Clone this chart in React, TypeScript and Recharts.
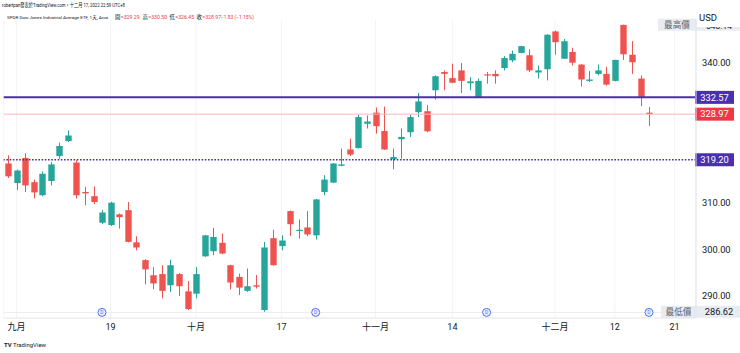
import { ComposedChart, Bar, XAxis, YAxis, ReferenceLine, ReferenceDot, CartesianGrid } from 'recharts';

// daily candles, 2022-08-31 .. 2022-12-16 (DIA)
const openP = [
  318.4, 314.2, 319.6, 314.4, 311.6, 314.65, 320.0, 323.2, 318.6, 312.3,
  311.4, 305.7, 305.2, 307.5, 308.4, 301.5, 297.7, 294.45, 294.7, 292.3,
  294.7, 291.0, 290.5, 298.5, 299.6, 301.4, 296.6, 294.1, 291.1, 292.3,
  287.0, 302.4, 300.7, 308.2, 304.1, 304.7, 303.0, 312.3, 314.3, 317.9,
  321.4, 321.7, 326.9, 329.3, 325.35, 319.3, 323.6, 325.1, 329.4, 329.6,
  334.1, 338.0, 336.7, 338.35, 335.6, 332.6, 337.5, 337.6, 338.85, 340.5,
  342.1, 341.6, 337.9, 338.6, 346.7, 340.85, 342.3, 339.6, 336.1, 337.6,
  337.6, 336.1, 348.1, 341.7, 336.6, 329.29,
];
const highP = [
  320.15, 317.1, 320.6, 314.95, 316.7, 318.7, 322.9, 325.5, 319.1, 313.4,
  313.5, 308.4, 310.2, 307.7, 310.15, 302.8, 297.9, 296.2, 296.6, 297.8,
  294.9, 293.2, 296.2, 303.1, 304.6, 303.4, 296.7, 294.8, 295.9, 294.5,
  301.6, 304.2, 303.0, 308.3, 306.4, 308.2, 310.8, 315.9, 318.5, 321.6,
  323.7, 328.9, 328.7, 330.4, 330.6, 321.6, 325.9, 328.9, 333.5, 330.9,
  337.3, 338.35, 339.8, 339.9, 336.9, 336.6, 338.0, 338.35, 341.4, 342.6,
  343.6, 342.85, 339.4, 346.1, 346.9, 345.1, 343.2, 339.7, 338.2, 339.6,
  339.1, 340.6, 348.14, 344.6, 337.3, 330.5,
];
const lowP = [
  315.3, 312.7, 312.3, 310.9, 311.4, 313.7, 319.4, 323.0, 310.9, 309.45,
  309.7, 305.4, 305.0, 304.45, 301.5, 299.8, 292.5, 291.45, 289.5, 290.9,
  290.0, 287.0, 289.5, 298.4, 298.75, 298.95, 291.4, 290.2, 290.9, 291.6,
  286.62, 296.5, 299.8, 302.9, 302.3, 302.8, 302.1, 311.6, 314.2, 317.8,
  320.0, 321.6, 325.9, 324.8, 321.3, 317.15, 319.45, 324.1, 328.35, 325.1,
  332.1, 334.1, 335.6, 333.5, 334.1, 332.5, 335.5, 335.5, 338.35, 340.1,
  342.0, 338.0, 336.6, 336.2, 341.7, 340.8, 339.4, 334.9, 335.85, 337.3,
  335.1, 336.0, 340.6, 337.6, 330.7, 326.45,
];
const closeP = [
  315.65, 316.9, 313.7, 312.2, 316.2, 318.2, 322.15, 324.4, 311.6, 312.0,
  310.15, 307.9, 310.0, 306.9, 301.6, 300.4, 295.7, 292.7, 291.1, 296.6,
  292.1, 287.2, 294.7, 303.0, 302.65, 299.1, 292.9, 291.8, 292.1, 292.0,
  300.4, 296.6, 301.9, 305.4, 304.2, 303.2, 310.7, 314.95, 318.4, 318.2,
  320.3, 328.35, 327.4, 326.4, 321.4, 319.8, 324.1, 328.35, 331.7, 325.3,
  337.1, 337.6, 335.7, 336.1, 336.0, 336.1, 337.3, 337.1, 341.0, 341.9,
  343.55, 338.35, 338.35, 346.0, 344.4, 344.6, 340.0, 336.4, 336.4, 338.35,
  335.3, 340.6, 341.8, 340.1, 332.6, 328.97,
];

const SLOTS = 81; // 76 sessions + empty days to the right
const tickIdx = [1, 12, 22, 32, 43, 52, 64, 71, 78];
const tickText = ['九月', '19', '十月', '17', '十一月', '14', '十二月', '12', '21'];
const dividendIdx = [11, 36, 56, 75];

// header legend
const legendNames = ['開', '高', '低', '收'];
const legendValues = ['329.29', '330.50', '326.45', '328.97'];
const changeText = '−1.83 (−1.15%)';

const LINE_HI = 332.57;
const LINE_LO = 319.2;
const LAST = 328.97;
const MAX_P = 348.14;
const MIN_P = 286.62;

const Y_MIN = 285.29;
const Y_MAX = 349.15;
const DIV_LEVEL = Y_MIN + 1.2;

const UP = '#26a69a';
const DOWN = '#ef5350';
const PURPLE = '#4a2fae';
const FONT = "Roboto, 'Noto Sans CJK TC', sans-serif";

const data = Array.from({ length: SLOTS }, (_, i) => {
  const has = i < openP.length;
  return {
    i,
    o: has ? openP[i] : null,
    h: has ? highP[i] : null,
    l: has ? lowP[i] : null,
    c: has ? closeP[i] : null,
    range: has ? [lowP[i], highP[i]] : null,
  };
});

const Candle = (props: any) => {
  const { x, y, width, height, payload } = props;
  if (!payload || payload.o == null) return null;
  const { o, h, l, c } = payload;
  const top = Math.min(y, y + height);
  const bottom = Math.max(y, y + height);
  const k = (bottom - top) / (h - l);
  const py = (v: number) => top + (h - v) * k;
  const color = c >= o ? UP : DOWN;
  const cx = Math.round(x + width / 2) + 0.5;
  const bTop = py(Math.max(o, c));
  const bH = Math.max(py(Math.min(o, c)) - bTop, 1.2);
  return (
    <g>
      <line x1={cx} x2={cx} y1={top} y2={bottom} stroke={color} strokeWidth={1} />
      <rect x={cx - 3.2} y={bTop} width={6.4} height={bH} fill={color} />
    </g>
  );
};

const PriceTag = (props: any) => {
  const { viewBox, text, bg, color } = props;
  if (!viewBox) return null;
  const x = viewBox.x + viewBox.width;
  const y = viewBox.y;
  return (
    <g>
      <rect x={x - 1} y={y - 6.5} width={39} height={13} fill={bg} />
      <text x={x + 18.5} y={y} dy="0.35em" textAnchor="middle" fill={color} fontSize={9.3} fontFamily={FONT}>
        {text}
      </text>
    </g>
  );
};

const ExtremeTag = (props: any) => {
  const { viewBox, name, value, left, shift = 0, valueSize = 9.3 } = props;
  if (!viewBox) return null;
  const right = viewBox.x + viewBox.width;
  const y = viewBox.y;
  return (
    <g>
      <rect x={right - left} y={y - 6} width={left + 44} height={12} fill="#e6eaf1" fillOpacity={0.9} />
      <text x={right - left / 2} y={y} dy="0.35em" textAnchor="middle" fill="#5d606b" fontSize={8.6} fontFamily={FONT}>
        {name}
      </text>
      <text x={right + 23} y={y + shift} dy="0.35em" textAnchor="middle" fill="#131722" fontSize={valueSize} fontFamily={FONT}>
        {value}
      </text>
    </g>
  );
};

const DivMarker = (props: any) => {
  const { cx, cy } = props;
  return (
    <g>
      <circle cx={cx} cy={cy} r={4} fill="#eef2ff" stroke="#4d6ef5" strokeWidth={1} />
      <text x={cx} y={cy} dy="0.36em" textAnchor="middle" fontSize={5} fill="#4d6ef5" fontFamily={FONT}>
        D
      </text>
    </g>
  );
};

const XTick = (props: any) => {
  const { x, y, payload } = props;
  const k = tickIdx.indexOf(payload.value);
  return (
    <text x={x} y={y + 4.3} textAnchor="middle" fontSize={9} fill="#131722" fontFamily={FONT}>
      {tickText[k]}
    </text>
  );
};

const YTick = (props: any) => {
  const { x, y, payload } = props;
  return (
    <text x={x} y={y} dy="0.35em" textAnchor="start" fontSize={9.3} fill="#131722" fontFamily={FONT}>
      {payload.value.toFixed(2)}
    </text>
  );
};

// start x of each legend item in the header line
const legendX = [115, 142.5, 169.5, 196.5];

export default function App() {
  return (
    <div style={{ position: 'absolute', left: 0, top: 0, width: 740, height: 353, background: '#fff', fontFamily: FONT }}>
      <ComposedChart width={740} height={353} data={data} margin={{ top: 20, right: 0, left: 3.7, bottom: 0 }}>
        <CartesianGrid horizontal={false} stroke="#f3f4f7" />
        <XAxis
          dataKey="i"
          type="category"
          ticks={tickIdx}
          interval={0}
          tick={<XTick />}
          tickLine={false}
          axisLine={{ stroke: '#e0e3eb' }}
          height={35}
        />
        <YAxis
          orientation="right"
          domain={[Y_MIN, Y_MAX]}
          allowDataOverflow
          ticks={[290, 300, 310, 340]}
          tick={<YTick />}
          tickLine={false}
          tickSize={6}
          tickMargin={0}
          axisLine={{ stroke: '#e0e3eb' }}
          width={44}
        />
        <ReferenceLine y={DIV_LEVEL} stroke="#e9ebf0" />
        <ReferenceLine y={LAST} stroke="#f7b8bc" strokeWidth={1} />
        <Bar dataKey="range" isAnimationActive={false} shape={(p: any) => <Candle {...p} />} />
        <ReferenceLine y={LINE_HI} stroke={PURPLE} strokeWidth={2} label={<PriceTag text={LINE_HI.toFixed(2)} bg={PURPLE} color="#fff" />} />
        <ReferenceLine
          y={LINE_LO}
          stroke={PURPLE}
          strokeWidth={1.6}
          strokeDasharray="1.6 1.6"
          label={<PriceTag text={LINE_LO.toFixed(2)} bg={PURPLE} color="#fff" />}
        />
        <ReferenceLine y={LAST} stroke="none" label={<PriceTag text={LAST.toFixed(2)} bg="#f23645" color="#fff" />} />
        <ReferenceLine
          y={MAX_P}
          stroke="none"
          label={<ExtremeTag name="最高價" value={MAX_P.toFixed(2)} left={38} shift={1.5} valueSize={8.4} />}
        />
        <ReferenceLine y={MIN_P} stroke="none" label={<ExtremeTag name="最低價" value={MIN_P.toFixed(2)} left={35} />} />
        {dividendIdx.map((d) => (
          <ReferenceDot key={d} x={d} y={DIV_LEVEL} r={4} shape={(p: any) => <DivMarker {...p} />} />
        ))}
      </ComposedChart>

      <svg width={740} height={22} style={{ position: 'absolute', left: 0, top: 0 }}>
        <text x={2} y={6.6} fontSize={6} fill="#131722" textLength={123} lengthAdjust="spacingAndGlyphs" fontFamily={FONT}>
          robertpan發表於TradingView.com，十二月 17, 2022 22:59 UTC+8
        </text>
        <text x={7} y={19} fontSize={4.4} fill="#131722" textLength={101} lengthAdjust="spacingAndGlyphs" fontFamily={FONT}>
          SPDR Dow Jones Industrial Average ETF, 1天, Arca
        </text>
        {legendNames.map((n, k) => (
          <g key={n}>
            <text x={legendX[k]} y={19} fontSize={5.4} fill="#131722" fontFamily={FONT}>
              {n}
            </text>
            <text x={legendX[k] + 5.8} y={19} fontSize={5.2} fill="#f23645" fontFamily={FONT}>
              ={legendValues[k]}
            </text>
          </g>
        ))}
        <text x={221} y={19} fontSize={4.9} fill="#f23645" fontFamily={FONT}>
          {changeText}
        </text>
      </svg>

      <div
        style={{
          position: 'absolute',
          left: 697,
          top: 0,
          width: 43,
          height: 27,
          background: '#fff',
          fontSize: 9.5,
          color: '#131722',
          lineHeight: '9px',
          paddingTop: 13,
          boxSizing: 'border-box',
          paddingLeft: 2,
        }}
      >
        USD
      </div>

      <svg width={80} height={14} style={{ position: 'absolute', left: 0, top: 339 }}>
        <text x={4} y={8} fontSize={6} fill="#131722" fontFamily={FONT}>
          <tspan fontWeight={700}>TV</tspan> TradingView
        </text>
      </svg>
    </div>
  );
}
